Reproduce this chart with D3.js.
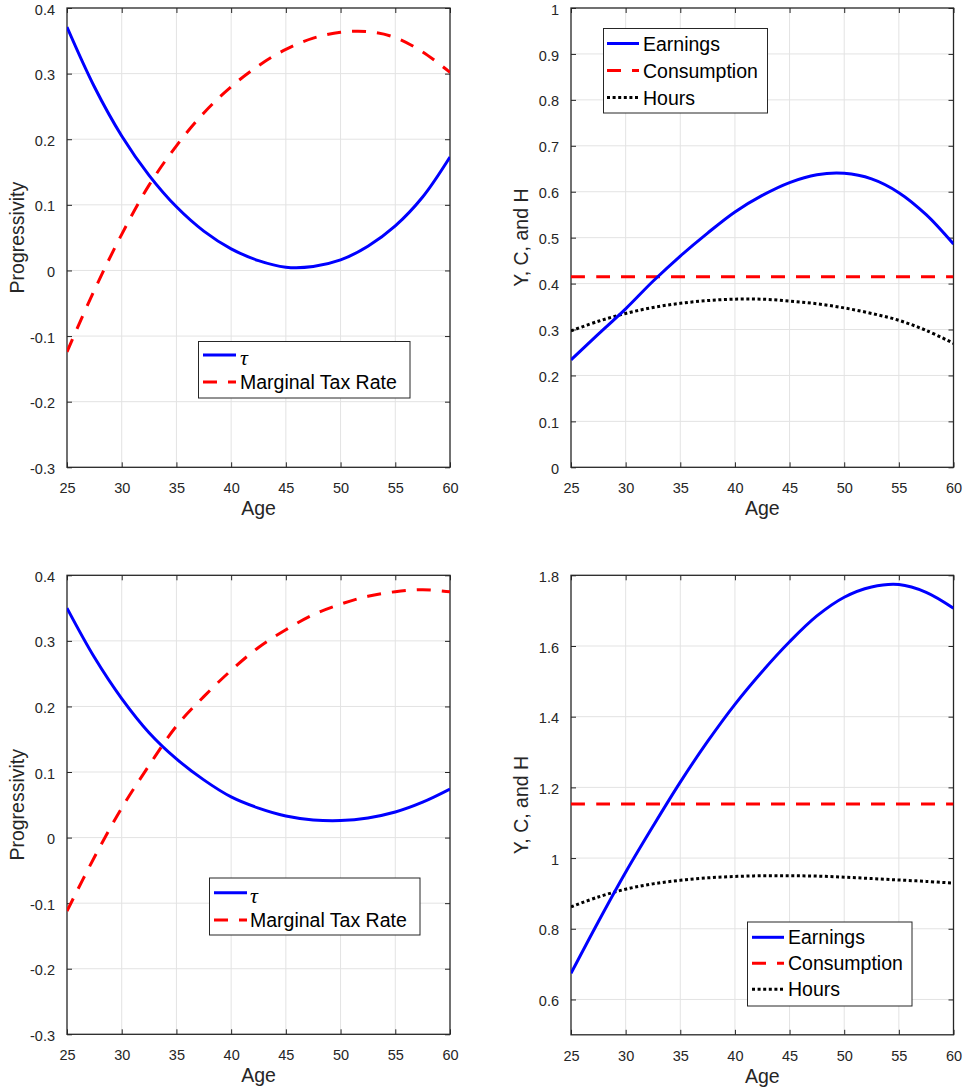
<!DOCTYPE html>
<html><head><meta charset="utf-8">
<script src="https://cdn.jsdelivr.net/npm/d3@7"></script>
<style>
html,body{margin:0;padding:0;background:#fff;}
svg{display:block;}
text{font-family:"Liberation Sans",Arial,Helvetica,sans-serif;}
</style></head>
<body><svg id="c" width="964" height="1091"></svg>
<script>
// ---- data ----
const ages = [25,27.5,30,32.5,35,37.5,40,42.5,45,47.5,50,52.5,55,57.5,60];

const tauTop = [0.371,0.280,0.205,0.145,0.097,0.060,0.033,0.015,0.005,0.006,0.016,0.037,0.068,0.112,0.173];
const mtrTop = [-0.124,-0.030,0.055,0.130,0.190,0.240,0.280,0.312,0.337,0.354,0.363,0.364,0.355,0.333,0.302];

const earnTop = [0.234,0.290,0.345,0.405,0.460,0.510,0.556,0.592,0.620,0.637,0.640,0.628,0.598,0.550,0.486];
const consTop = [0.415,0.415,0.415,0.415,0.415,0.415,0.415,0.415,0.415,0.415,0.415,0.415,0.415,0.415,0.415];
const hoursTop = [0.297,0.318,0.335,0.348,0.357,0.363,0.366,0.366,0.362,0.356,0.347,0.335,0.320,0.298,0.270];

const tauBot = [0.350,0.275,0.212,0.160,0.120,0.088,0.062,0.045,0.033,0.027,0.026,0.030,0.039,0.054,0.074];
const mtrBot = [-0.112,-0.030,0.045,0.110,0.170,0.215,0.255,0.290,0.317,0.340,0.356,0.368,0.375,0.378,0.375];

const earnBot = [0.674,0.820,0.960,1.090,1.215,1.330,1.435,1.528,1.612,1.685,1.738,1.767,1.774,1.752,1.707];
const consBot = [1.153,1.153,1.153,1.153,1.153,1.153,1.153,1.153,1.153,1.153,1.153,1.153,1.153,1.153,1.153];
const hoursBot = [0.862,0.890,0.912,0.927,0.937,0.944,0.948,0.950,0.950,0.949,0.946,0.942,0.938,0.934,0.929];

const xTicks = [25,30,35,40,45,50,55,60];
const progTicks = [-0.3,-0.2,-0.1,0,0.1,0.2,0.3,0.4];
const ychTicksTop = [0,0.1,0.2,0.3,0.4,0.5,0.6,0.7,0.8,0.9,1];
const ychTicksBot = [0.6,0.8,1,1.2,1.4,1.6,1.8];

const tauLabel = "τ";
const mtrLabel = "Marginal Tax Rate";
const seriesLabels = ["Earnings","Consumption","Hours"];

// ---- styles ----
const BLUE = "#0000ff", RED = "#ff0000", BLACK = "#000000";
const AX = "#262626", GRID = "#e3e3e3";
const styles = {
  solid: {color: BLUE, dash: null},
  dashed: {color: RED, dash: "14,11"},
  dotted: {color: BLACK, dash: "3,2.6"}
};

const panels = [
  {box:[67,8,450,467.3], y:[-0.3,0.4], yt:progTicks, ylabel:"Progressivity", ylx:24,
   series:[{v:tauTop,s:"solid",lab:tauLabel,tex:true},{v:mtrTop,s:"dashed",lab:mtrLabel}],
   legend:{x:198.5,y:341.5,w:211.5,h:56.5,rows:[355,382],lx0:203,lx1:236,tx:240}},
  {box:[571,8,953.5,467.3], y:[0,1], yt:ychTicksTop, ylabel:"Y, C, and H", ylx:528,
   series:[{v:earnTop,s:"solid",lab:seriesLabels[0]},{v:consTop,s:"dashed",lab:seriesLabels[1]},{v:hoursTop,s:"dotted",lab:seriesLabels[2]}],
   legend:{x:603.5,y:28.5,w:164,h:84.5,rows:[43.5,70.5,97.5],lx0:607,lx1:639,tx:643}},
  {box:[67,575.3,450,1034.3], y:[-0.3,0.4], yt:progTicks, ylabel:"Progressivity", ylx:24,
   series:[{v:tauBot,s:"solid",lab:tauLabel,tex:true},{v:mtrBot,s:"dashed",lab:mtrLabel}],
   legend:{x:209.5,y:878,w:210.5,h:57,rows:[892.7,920],lx0:214,lx1:247,tx:250}},
  {box:[571,575.3,953.5,1034.8], y:[0.5,1.8], yt:ychTicksBot, ylabel:"Y, C, and H", ylx:528,
   series:[{v:earnBot,s:"solid",lab:seriesLabels[0]},{v:consBot,s:"dashed",lab:seriesLabels[1]},{v:hoursBot,s:"dotted",lab:seriesLabels[2]}],
   legend:{x:747.5,y:922,w:164.5,h:84,rows:[937.3,963.3,989.3],lx0:752,lx1:784,tx:788}}
];

const svg = d3.select("#c");
const fmt = d => (d<0 ? "-" : "") + String(Math.abs(Math.round(d*10)/10));

panels.forEach((p,i) => {
  const [x0,y0,x1,y1] = p.box;
  const x = d3.scaleLinear().domain([25,60]).range([x0,x1]);
  const y = d3.scaleLinear().domain(p.y).range([y1,y0]);
  const g = svg.append("g");

  // grid
  g.append("g").selectAll("line").data(xTicks.slice(1,-1)).join("line")
    .attr("x1",d=>x(d)).attr("x2",d=>x(d)).attr("y1",y0).attr("y2",y1)
    .attr("stroke",GRID).attr("stroke-width",1);
  g.append("g").selectAll("line").data(p.yt.filter(t=>y(t)>y0+1 && y(t)<y1-1)).join("line")
    .attr("x1",x0).attr("x2",x1).attr("y1",d=>y(d)).attr("y2",d=>y(d))
    .attr("stroke",GRID).attr("stroke-width",1);

  // axes via d3.axis (inward ticks)
  const tl = 5;
  const axB = d3.axisBottom(x).tickValues(xTicks).tickSizeInner(-tl).tickSizeOuter(0).tickPadding(12).tickFormat(d3.format("d"));
  const axT = d3.axisTop(x).tickValues(xTicks).tickSizeInner(-tl).tickSizeOuter(0).tickFormat("");
  const axL = d3.axisLeft(y).tickValues(p.yt).tickSizeInner(-tl).tickSizeOuter(0).tickPadding(12).tickFormat(fmt);
  const axR = d3.axisRight(y).tickValues(p.yt).tickSizeInner(-tl).tickSizeOuter(0).tickFormat("");
  const styleAx = sel => {
    sel.selectAll("path").remove();
    sel.selectAll("line").attr("stroke",AX).attr("stroke-width",1);
    sel.selectAll("text").attr("fill",AX).style("font-size","14.5px").style("font-family",'"Liberation Sans",Arial,sans-serif');
  };
  g.append("g").attr("transform",`translate(0,${y1})`).call(axB).call(styleAx)
    .selectAll("text").attr("dy","0.95em");
  g.append("g").attr("transform",`translate(0,${y0})`).call(axT).call(styleAx);
  g.append("g").attr("transform",`translate(${x0},0)`).call(axL).call(styleAx)
    .selectAll("text").attr("dy","0.42em");
  g.append("g").attr("transform",`translate(${x1},0)`).call(axR).call(styleAx);

  // box
  g.append("rect").attr("x",x0).attr("y",y0).attr("width",x1-x0).attr("height",y1-y0)
    .attr("fill","none").attr("stroke",AX).attr("stroke-width",1.3);

  // lines
  const clipId = "clip"+i;
  svg.append("clipPath").attr("id",clipId).append("rect")
    .attr("x",x0).attr("y",y0-2).attr("width",x1-x0).attr("height",y1-y0+4);
  const line = d3.line().x((d,k)=>x(ages[k])).y(d=>y(d)).curve(d3.curveCatmullRom.alpha(0.5));
  const lg = g.append("g").attr("clip-path",`url(#${clipId})`);
  p.series.slice().reverse().forEach(s => {
    const st = styles[s.s];
    lg.append("path").attr("d",line(s.v)).attr("fill","none")
      .attr("stroke",st.color).attr("stroke-width",3)
      .attr("stroke-dasharray",st.dash).attr("stroke-linejoin","round");
  });

  // axis labels
  g.append("text").attr("x",(x0+x1)/2).attr("y",y1+48).attr("text-anchor","middle")
    .attr("fill",AX).style("font-size","19.5px").text("Age");
  g.append("text").attr("transform",`translate(${p.ylx},${(y0+y1)/2}) rotate(-90)`)
    .attr("text-anchor","middle").attr("fill",AX).style("font-size","19.5px").text(p.ylabel);

  // legend
  const L = p.legend;
  const lgd = g.append("g");
  lgd.append("rect").attr("x",L.x).attr("y",L.y).attr("width",L.w).attr("height",L.h)
    .attr("fill","#fff").attr("stroke",AX).attr("stroke-width",1);
  p.series.forEach((s,k) => {
    const st = styles[s.s];
    const ry = L.rows[k];
    lgd.append("line").attr("x1",L.lx0).attr("x2",L.lx1).attr("y1",ry).attr("y2",ry)
      .attr("stroke",st.color).attr("stroke-width",3).attr("stroke-dasharray",st.dash);
    const t = lgd.append("text").attr("x",L.tx).attr("y",ry).attr("dy","0.36em")
      .attr("fill","#000").style("font-size","19.5px").text(s.lab);
    if (s.tex) t.style("font-family",'"Liberation Serif","DejaVu Serif",serif').style("font-style","italic")
      .style("font-size","22px").attr("dy","0.45em");
  });
});
</script></body></html>
